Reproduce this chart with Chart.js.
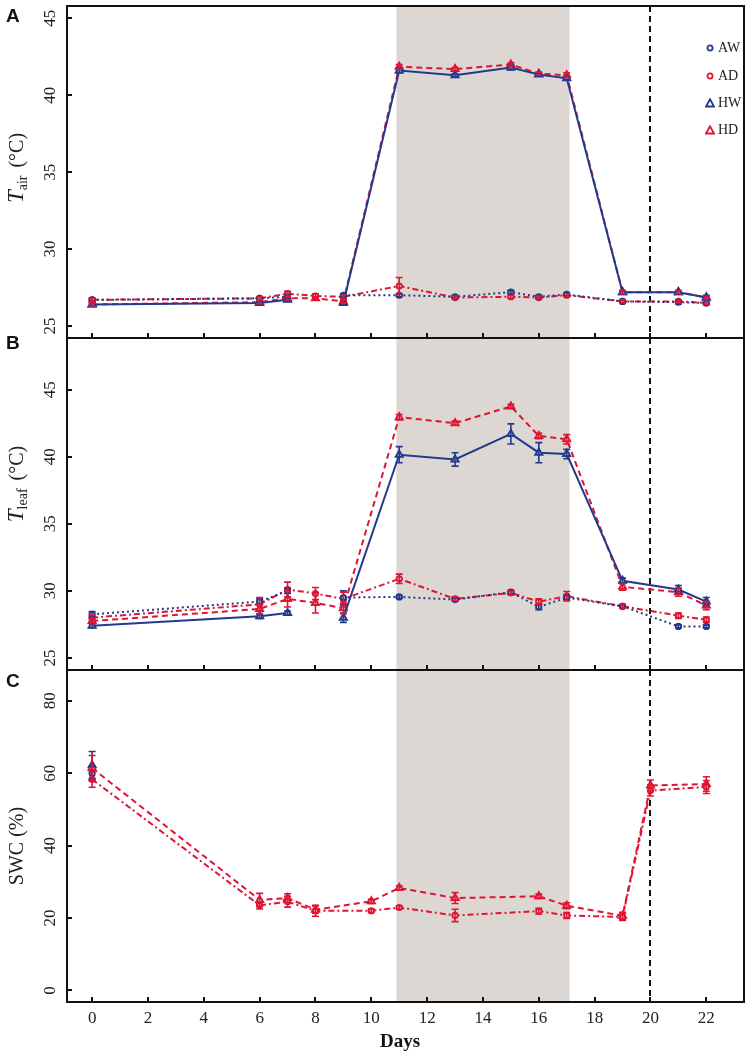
<!DOCTYPE html>
<html><head><meta charset="utf-8">
<script src="https://cdn.jsdelivr.net/npm/chart.js@4.4.0/dist/chart.umd.min.js"></script>
<style>
html,body{margin:0;padding:0;background:#fff;width:750px;height:1055px;overflow:hidden;}
canvas{position:absolute;left:0;top:0;}
.panel{position:absolute;font-family:"Liberation Sans",Arial,sans-serif;font-weight:bold;font-size:19px;line-height:1;color:#111;}
.ytitle{position:absolute;transform:translate(-50%,-50%) rotate(-90deg);font-family:"Liberation Serif",serif;font-size:20px;line-height:1;white-space:nowrap;color:#222;}
.ytitle i{font-size:23px;}
.ytitle sub{font-size:14px;vertical-align:-4px;margin-right:8px;}
.xtitle{position:absolute;transform:translate(-50%,-50%);font-family:"Liberation Serif",serif;font-weight:bold;font-size:19px;line-height:1;color:#111;}
.leg{position:absolute;left:705px;font-family:"Liberation Serif",serif;font-size:14px;line-height:1;color:#222;display:flex;align-items:center;transform:translateY(-50%);}
.leg svg{margin-right:3px;}
</style></head>
<body>
<canvas id="cA" width="750" height="1055"></canvas>
<canvas id="cB" width="750" height="1055"></canvas>
<canvas id="cC" width="750" height="1055"></canvas>

<div class="panel" style="left:6px;top:6px;">A</div>
<div class="panel" style="left:6px;top:333px;">B</div>
<div class="panel" style="left:6px;top:671px;">C</div>

<div class="ytitle" style="left:17px;top:168px;"><i>T</i><sub>air</sub>(°C)</div>
<div class="ytitle" style="left:17px;top:484px;"><i>T</i><sub>leaf</sub>(°C)</div>
<div class="ytitle" style="left:16px;top:846px;">SWC (%)</div>
<div class="xtitle" style="left:400px;top:1040px;">Days</div>

<div class="leg" style="top:48px;"><svg width="10" height="10"><circle cx="5" cy="5" r="2.6" fill="#fff" stroke="#233a8c" stroke-width="1.8"/></svg>AW</div>
<div class="leg" style="top:76px;"><svg width="10" height="10"><circle cx="5" cy="5" r="2.6" fill="#fff" stroke="#dd1633" stroke-width="1.8"/></svg>AD</div>
<div class="leg" style="top:103px;"><svg width="10" height="10"><polygon points="5,1.2 9,8.5 1,8.5" fill="#fff" stroke="#233a8c" stroke-width="1.8"/></svg>HW</div>
<div class="leg" style="top:130px;"><svg width="10" height="10"><polygon points="5,1.2 9,8.5 1,8.5" fill="#fff" stroke="#dd1633" stroke-width="1.8"/></svg>HD</div>

<script>
// ---------------- DATA ----------------
const seriesNames = ['AW', 'AD', 'HW', 'HD'];
const xTickStep = 2;
const heatStart = 10.9, heatEnd = 17.1, rewaterDay = 20;

// Panel A / B sampling days
const daysAB = [0, 6, 7, 8, 9, 11, 13, 15, 16, 17, 19, 21, 22];

// Panel A: air temperature (°C)
const airAW = [26.7, 26.8, 26.9, null, 27.0, 27.0, 26.9, 27.2, 26.9, 27.05, 26.6, 26.55, 26.5];
const airAD = [26.7, 26.8, 27.1, 26.95, 26.9, 27.6, 26.85, 26.9, 26.85, 27.0, 26.6, 26.6, 26.5];
const airHW = [26.4, 26.5, 26.7, null, 26.5, 41.6, 41.3, 41.8, 41.35, 41.1, 27.2, 27.2, 26.85];
const airHD = [26.4, 26.55, 26.8, 26.8, 26.6, 41.85, 41.7, 42.0, 41.4, 41.3, 27.2, 27.2, 26.85];
const airErrAW = [0.1, 0.1, 0.1, 0, 0.1, 0.1, 0.1, 0.1, 0.1, 0.1, 0.1, 0.1, 0.1];
const airErrAD = [0.1, 0.1, 0.15, 0.15, 0.1, 0.55, 0.1, 0.1, 0.1, 0.1, 0.1, 0.1, 0.1];
const airErrHW = [0.1, 0.1, 0.1, 0, 0.1, 0.15, 0.1, 0.15, 0.1, 0.1, 0.1, 0.1, 0.15];
const airErrHD = [0.1, 0.1, 0.1, 0.1, 0.1, 0.15, 0.1, 0.1, 0.1, 0.15, 0.1, 0.1, 0.1];

// Panel B: leaf temperature (°C)
const leafAW = [28.25, 29.2, 30.0, null, 29.5, 29.55, 29.35, 29.9, 28.8, 29.5, 28.85, 27.35, 27.35];
const leafAD = [28.0, 29.0, 30.1, 29.8, 29.4, 30.9, 29.4, 29.85, 29.2, 29.6, 28.85, 28.15, 27.85];
const leafHW = [27.4, 28.1, 28.35, null, 28.0, 40.15, 39.8, 41.7, 40.3, 40.2, 30.75, 30.1, 29.2];
const leafHD = [27.75, 28.65, 29.4, 29.1, 28.7, 42.95, 42.5, 43.75, 41.55, 41.3, 30.3, 29.9, 28.9];
const leafErrAW = [0.2, 0.2, 0.2, 0, 0.5, 0.1, 0.1, 0.15, 0.2, 0.15, 0.1, 0.1, 0.1];
const leafErrAD = [0.2, 0.5, 0.55, 0.45, 0.5, 0.35, 0.15, 0.15, 0.2, 0.35, 0.15, 0.2, 0.2];
const leafErrHW = [0.15, 0.15, 0.15, 0, 0.35, 0.6, 0.5, 0.75, 0.75, 0.35, 0.2, 0.3, 0.3];
const leafErrHD = [0.2, 0.35, 0.6, 0.75, 0.4, 0.2, 0.15, 0.15, 0.2, 0.35, 0.25, 0.3, 0.3];

// Panel C: soil water content (%) — well-watered series only visible on day 0
const daysC = [0, 6, 7, 8, 10, 11, 13, 16, 17, 19, 20, 22];
const swcAW = [59.9, null, null, null, null, null, null, null, null, null, null, null];
const swcAD = [58.3, 23.5, 24.5, 22.0, 22.0, 22.9, 20.7, 21.9, 20.7, 20.3, 55.2, 56.2];
const swcHW = [62.2, null, null, null, null, null, null, null, null, null, null, null];
const swcHD = [61.4, 25.0, 25.5, 22.3, 24.6, 28.3, 25.5, 26.0, 23.4, 20.6, 56.6, 57.0];
const swcErrAW = [2.0, 0, 0, 0, 0, 0, 0, 0, 0, 0, 0, 0];
const swcErrAD = [2.2, 1.0, 1.5, 1.5, 0.5, 0.5, 1.7, 0.8, 0.8, 1.0, 1.5, 1.8];
const swcErrHW = [3.8, 0, 0, 0, 0, 0, 0, 0, 0, 0, 0, 0];
const swcErrHD = [3.5, 1.8, 1.2, 1.0, 0.6, 0.6, 1.5, 0.6, 0.8, 1.0, 1.5, 2.0];

const yTicksA = [25, 30, 35, 40, 45];
const yTicksB = [25, 30, 35, 40, 45];
const yTicksC = [0, 20, 40, 60, 80];

// ---------------- STYLE ----------------
const BLUE = '#233a8c', RED = '#dd1633', SHADE = '#dcd7d3', INK = '#111';
const seriesStyle = {
  AW: {color: BLUE, dash: [2, 3], point: 'circle', r: 2.6},
  AD: {color: RED, dash: [6, 3, 2, 3], point: 'circle', r: 2.6},
  HW: {color: BLUE, dash: [], point: 'triangle', r: 4},
  HD: {color: RED, dash: [6, 4], point: 'triangle', r: 4}
};
const X_MIN = -0.9, X_MAX = 23.35;
const TICK_FONT = {family: 'Liberation Serif', size: 17};

const deco = {
  id: 'deco',
  beforeDatasetsDraw(chart) {
    const {ctx, chartArea: a, scales: {x}} = chart;
    ctx.save();
    const x1 = x.getPixelForValue(heatStart), x2 = x.getPixelForValue(heatEnd);
    ctx.fillStyle = SHADE;
    ctx.fillRect(x1, a.top, x2 - x1, a.bottom - a.top);
    const xd = Math.round(x.getPixelForValue(rewaterDay));
    ctx.strokeStyle = INK; ctx.lineWidth = 2; ctx.setLineDash([6, 4]);
    ctx.beginPath(); ctx.moveTo(xd, a.top); ctx.lineTo(xd, a.bottom); ctx.stroke();
    ctx.restore();
  },
  afterDatasetsDraw(chart) {
    const {ctx, scales: {y}} = chart;
    ctx.save();
    ctx.setLineDash([]);
    chart.data.datasets.forEach((ds, i) => {
      const meta = chart.getDatasetMeta(i);
      ds.errors.forEach((e, j) => {
        const p = ds.data[j];
        if (p.y === null || !e) return;
        const px = meta.data[j].x;
        const yt = y.getPixelForValue(p.y + e), yb = y.getPixelForValue(p.y - e);
        ctx.strokeStyle = ds.borderColor; ctx.lineWidth = 1.6;
        ctx.beginPath();
        ctx.moveTo(px, yt); ctx.lineTo(px, yb);
        ctx.moveTo(px - 3.5, yt); ctx.lineTo(px + 3.5, yt);
        ctx.moveTo(px - 3.5, yb); ctx.lineTo(px + 3.5, yb);
        ctx.stroke();
      });
    });
    ctx.restore();
  },
  afterDraw(chart) {
    const {ctx, chartArea: a, scales: {x, y}} = chart;
    ctx.save();
    ctx.strokeStyle = INK; ctx.lineWidth = 2; ctx.setLineDash([]);
    ctx.strokeRect(a.left, a.top, a.right - a.left, a.bottom - a.top);
    ctx.beginPath();
    for (let d = 0; d <= 22; d += xTickStep) {
      const px = Math.round(x.getPixelForValue(d));
      ctx.moveTo(px, a.bottom); ctx.lineTo(px, a.bottom - 5);
    }
    chart.options.yTickVals.forEach(v => {
      const py = Math.round(y.getPixelForValue(v));
      ctx.moveTo(a.left, py); ctx.lineTo(a.left + 5, py);
    });
    ctx.stroke();
    ctx.restore();
  }
};

function makeChart(id, days, vals, errs, orders, yMin, yMax, yStep, yTickVals, top, bottom, showX) {
  const datasets = seriesNames.map((name, k) => {
    const s = seriesStyle[name];
    return {
      label: name,
      data: days.map((d, i) => ({x: d, y: vals[k][i]})),
      errors: errs[k],
      order: orders[k],
      borderColor: s.color,
      backgroundColor: '#fff',
      borderWidth: 2,
      borderDash: s.dash,
      pointStyle: s.point,
      pointRadius: s.r,
      pointBorderWidth: 2,
      pointBackgroundColor: '#fff',
      pointBorderColor: s.color,
      spanGaps: false,
      tension: 0
    };
  });
  return new Chart(document.getElementById(id), {
    type: 'line',
    data: {datasets},
    options: {
      responsive: false, animation: false, events: [],
      yTickVals,
      layout: {padding: {top: top, bottom: showX ? 0 : 1055 - bottom, left: 0, right: 4}},
      plugins: {legend: {display: false}, tooltip: {enabled: false}},
      scales: {
        x: {
          type: 'linear', min: X_MIN, max: X_MAX, display: showX,
          grid: {display: false, drawTicks: false}, border: {display: false},
          ticks: {stepSize: xTickStep, includeBounds: false, autoSkip: false, maxRotation: 0, padding: 6,
                  font: TICK_FONT, color: '#222'},
          afterFit: s => { s.height = showX ? 1055 - bottom : 0; s.paddingLeft = 0; s.paddingRight = 0; }
        },
        y: {
          type: 'linear', min: yMin, max: yMax,
          grid: {display: false, drawTicks: false}, border: {display: false},
          ticks: {stepSize: yStep, includeBounds: false, autoSkip: false, minRotation: 90, maxRotation: 90,
                  crossAlign: 'center', padding: 8, font: TICK_FONT, color: '#222'},
          afterFit: s => { s.width = 67; s.paddingTop = 0; s.paddingBottom = 0; }
        }
      }
    },
    plugins: [deco]
  });
}

makeChart('cA', daysAB, [airAW, airAD, airHW, airHD], [airErrAW, airErrAD, airErrHW, airErrHD],
  [0, 2, 1, 3], 24.22, 45.8, 5, yTicksA, 6, 338, false);
makeChart('cB', daysAB, [leafAW, leafAD, leafHW, leafHD], [leafErrAW, leafErrAD, leafErrHW, leafErrHD],
  [0, 2, 1, 3], 24.1, 48.85, 5, yTicksB, 338, 670, false);
makeChart('cC', daysC, [swcAW, swcAD, swcHW, swcHD], [swcErrAW, swcErrAD, swcErrHW, swcErrHD],
  [2, 0, 3, 1], -3.2, 88.5, 20, yTicksC, 670, 1002, true);
</script>
</body></html>
